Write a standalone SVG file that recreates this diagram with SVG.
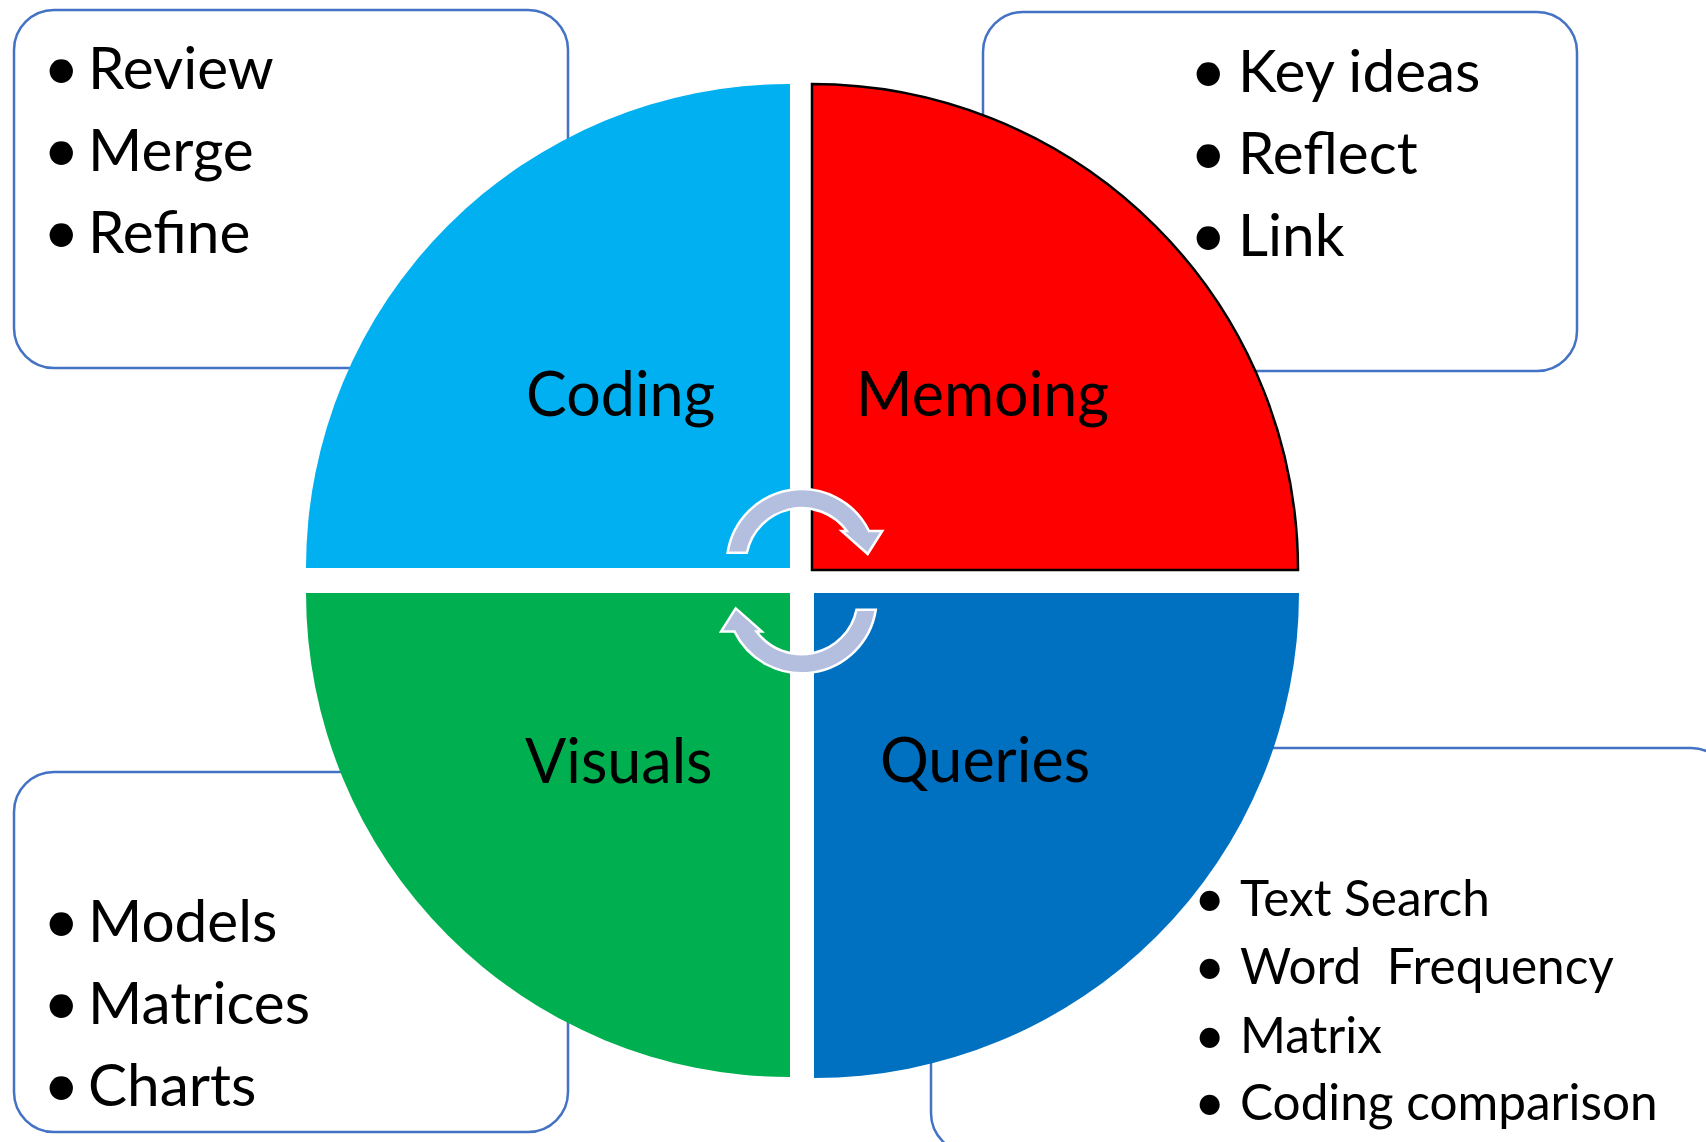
<svg xmlns="http://www.w3.org/2000/svg" width="1706" height="1142" viewBox="0 0 1706 1142">
<style>
.frame{fill:#FFFFFF;stroke:#4472C4;stroke-width:2.5}
.t{font-family:Lato,"Open Sans","Liberation Sans",sans-serif;fill:#000000}
.big{font-size:58.5px}
.lab{font-size:61px}
.sm{font-size:49.5px}
.b{font-size:63px}
.bs{font-size:54px}
.arrow{fill:#B4BFE0;stroke:#FFFFFF;stroke-width:2.5;stroke-linejoin:miter}
</style>
<rect width="1706" height="1142" fill="#FFFFFF"/>
<g id="frames">
<rect id="frame-coding" class="frame" x="14" y="10" width="554" height="358" rx="40" ry="40"/>
<rect id="frame-memoing" class="frame" x="983" y="12" width="594" height="359" rx="40" ry="40"/>
<rect id="frame-visuals" class="frame" x="14" y="772" width="554" height="360" rx="40" ry="40"/>
<rect id="frame-queries" class="frame" x="931" y="748" width="800" height="405" rx="40" ry="40"/>
</g>
<g id="node-coding">
<path d="M790 568 L790 84 A484 484 0 0 0 306 568 Z" fill="#00B0F0"/>
<text class="t lab" x="526" y="416">Coding</text>
</g>
<g id="node-memoing">
<path d="M812 570 L812 84 A486 486 0 0 1 1298 570 Z" fill="#FF0000" stroke="#000000" stroke-width="2.5"/>
<text class="t lab" x="856" y="416">Memoing</text>
</g>
<g id="node-visuals">
<path d="M790 593 L306 593 A484 484 0 0 0 790 1077 Z" fill="#00B050"/>
<text class="t lab" x="525" y="783">Visuals</text>
</g>
<g id="node-queries">
<path d="M814 593 L814 1078 A485 485 0 0 0 1299 593 Z" fill="#0070C0"/>
<text class="t lab" x="880" y="782">Queries</text>
</g>
<g id="connectors">
<path id="arrow-top" class="arrow" d="M727.6 552.7 A75 75 0 0 1 869 531 L882.3 531 L867.7 554 L841.7 531 L846.9 531 A56 56 0 0 0 746.9 552.7 Z"/>
<path id="arrow-bottom" class="arrow" transform="rotate(180 801.7 581.2)" d="M727.6 552.7 A75 75 0 0 1 869 531 L882.3 531 L867.7 554 L841.7 531 L846.9 531 A56 56 0 0 0 746.9 552.7 Z"/>
</g>
<g id="list-coding" class="t big">
<text class="b" x="43" y="90">•</text><text x="88" y="89">Review</text>
<text class="b" x="43" y="172">•</text><text x="88" y="171">Merge</text>
<text class="b" x="43" y="254">•</text><text x="88" y="253">Refine</text>
</g>
<g id="list-memoing" class="t big">
<text class="b" x="1190" y="93">•</text><text x="1238" y="92">Key ideas</text>
<text class="b" x="1190" y="175">•</text><text x="1238" y="174">Reflect</text>
<text class="b" x="1190" y="257">•</text><text x="1238" y="256">Link</text>
</g>
<g id="list-visuals" class="t big">
<text class="b" x="43" y="943">•</text><text x="88" y="942">Models</text>
<text class="b" x="43" y="1025">•</text><text x="88" y="1024">Matrices</text>
<text class="b" x="43" y="1107">•</text><text x="88" y="1106">Charts</text>
</g>
<g id="list-queries" class="t sm">
<text class="bs" x="1194" y="917">•</text><text x="1240" y="916">Text Search</text>
<text class="bs" x="1194" y="985">•</text><text x="1240" y="984" style="white-space:pre">Word  Frequency</text>
<text class="bs" x="1194" y="1054">•</text><text x="1240" y="1053">Matrix</text>
<text class="bs" x="1194" y="1121">•</text><text x="1240" y="1120">Coding comparison</text>
</g>
</svg>
